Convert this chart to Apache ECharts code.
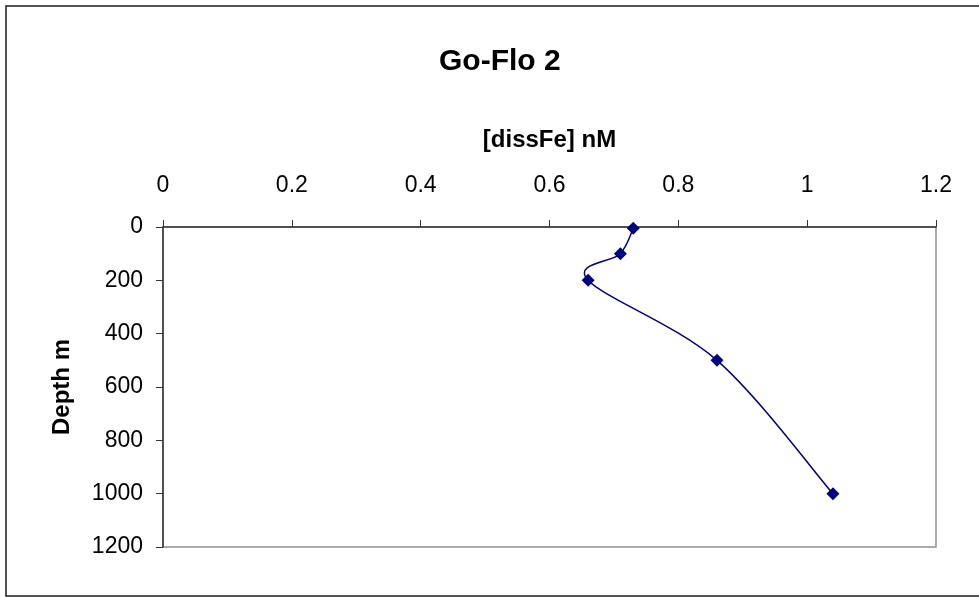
<!DOCTYPE html>
<html>
<head>
<meta charset="utf-8">
<script src="https://cdn.jsdelivr.net/npm/echarts@6/dist/echarts.min.js"></script>
<style>
html,body{margin:0;padding:0;background:#fff;}
#chart{width:979px;height:597px;}
</style>
</head>
<body>
<div id="chart"></div>
<script>
var titleText = 'Go-Flo 2';
var xName = '[dissFe] nM';
var yName = 'Depth m';
var dissFe = [0.73, 0.71, 0.66, 0.86, 1.04];
var depth = [5, 100, 200, 500, 1000];
var xTicks = [0, 0.2, 0.4, 0.6, 0.8, 1, 1.2];
var yTicks = [0, 200, 400, 600, 800, 1000, 1200];

var pts = dissFe.map(function (v, i) { return [v, depth[i]]; });
var FONT = '"Liberation Sans", Arial, sans-serif';

// smoothed curve (Catmull-Rom style, as the spreadsheet draws it) through the
// pixel positions given by the chart's own axes
function renderCurve(params, api) {
  var p = pts.map(function (d) { return api.coord(d); });
  var n = p.length;
  var d = 'M' + p[0][0] + ' ' + p[0][1];
  for (var i = 0; i < n - 1; i++) {
    var p0 = p[Math.max(i - 1, 0)], p1 = p[i], p2 = p[i + 1], p3 = p[Math.min(i + 2, n - 1)];
    var c1x = p1[0] + (p2[0] - p0[0]) / 6, c1y = p1[1] + (p2[1] - p0[1]) / 6;
    var c2x = p2[0] - (p3[0] - p1[0]) / 6, c2y = p2[1] - (p3[1] - p1[1]) / 6;
    d += ' C' + c1x + ' ' + c1y + ' ' + c2x + ' ' + c2y + ' ' + p2[0] + ' ' + p2[1];
  }
  return {
    type: 'path',
    shape: {pathData: d},
    style: {fill: 'none', stroke: '#000080', lineWidth: 1.5}
  };
}

var chart = echarts.init(document.getElementById('chart'), null, {renderer: 'canvas'});
chart.setOption({
  animation: false,
  backgroundColor: '#fff',
  title: {
    text: titleText,
    left: 434,
    top: 42,
    textStyle: {fontFamily: FONT, fontWeight: 'bold', fontSize: 30, color: '#000'}
  },
  grid: {
    left: 163, top: 227, width: 773, height: 320,
    show: true, borderColor: '#909090', borderWidth: 1.5, backgroundColor: '#fff'
  },
  graphic: [{
    type: 'rect', silent: true, z: -1,
    shape: {x: 6, y: 6, width: 1000, height: 590},
    style: {fill: 'none', stroke: '#1a1a1a', lineWidth: 1.5}
  }],
  xAxis: {
    type: 'value', position: 'top',
    min: xTicks[0], max: xTicks[xTicks.length - 1], interval: 0.2,
    name: xName, nameLocation: 'middle', nameGap: 75,
    nameTextStyle: {fontFamily: FONT, fontWeight: 'bold', fontSize: 24, color: '#000'},
    axisLine: {show: true, lineStyle: {color: '#333', width: 1.5}},
    axisTick: {show: true, length: 7, inside: false, lineStyle: {color: '#333', width: 1}},
    axisLabel: {margin: 30, fontFamily: FONT, fontSize: 23, color: '#000',
      formatter: function (v) { return String(Math.round(v * 10) / 10); }},
    splitLine: {show: false}
  },
  yAxis: {
    type: 'value', inverse: true,
    min: yTicks[0], max: yTicks[yTicks.length - 1], interval: 200,
    name: yName, nameLocation: 'middle', nameGap: 89, nameRotate: 90,
    nameTextStyle: {fontFamily: FONT, fontWeight: 'bold', fontSize: 24, color: '#000'},
    axisLine: {show: true, lineStyle: {color: '#333', width: 1.5}},
    axisTick: {show: true, length: 7, inside: false, lineStyle: {color: '#333', width: 1}},
    axisLabel: {margin: 20, fontFamily: FONT, fontSize: 23, color: '#000',
      formatter: function (v) { return String(v); }},
    splitLine: {show: false}
  },
  series: [{
    type: 'custom',
    data: [pts[0]],
    renderItem: renderCurve,
    silent: true,
    z: 2
  }, {
    type: 'scatter',
    data: pts,
    symbol: 'diamond',
    symbolSize: 13,
    itemStyle: {color: '#000080', opacity: 1},
    z: 3
  }]
});
</script>
</body>
</html>
